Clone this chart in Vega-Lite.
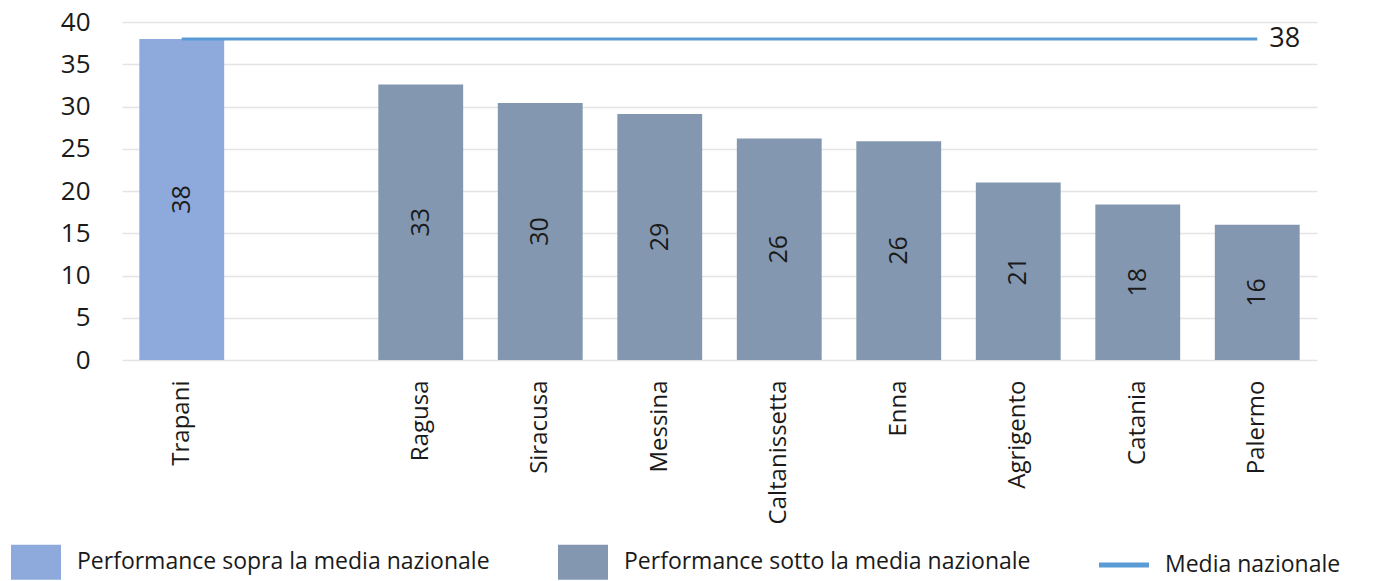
{
  "$schema": "https://vega.github.io/schema/vega-lite/v6.json",
  "autosize": {"type": "none"},
  "padding": {"left": 122, "top": 22, "right": 66, "bottom": 221},
  "width": 1195,
  "height": 338,
  "config": {
    "font": "Open Sans",
    "view": {"stroke": null}
  },
  "data": {
    "values": [
      {"provincia": "Trapani", "valore": 38.0, "gruppo": "Performance sopra la media nazionale"},
      {"provincia": "Ragusa", "valore": 32.6, "gruppo": "Performance sotto la media nazionale"},
      {"provincia": "Siracusa", "valore": 30.4, "gruppo": "Performance sotto la media nazionale"},
      {"provincia": "Messina", "valore": 29.1, "gruppo": "Performance sotto la media nazionale"},
      {"provincia": "Caltanissetta", "valore": 26.2, "gruppo": "Performance sotto la media nazionale"},
      {"provincia": "Enna", "valore": 25.9, "gruppo": "Performance sotto la media nazionale"},
      {"provincia": "Agrigento", "valore": 21.0, "gruppo": "Performance sotto la media nazionale"},
      {"provincia": "Catania", "valore": 18.4, "gruppo": "Performance sotto la media nazionale"},
      {"provincia": "Palermo", "valore": 16.0, "gruppo": "Performance sotto la media nazionale"}
    ]
  },
  "encoding": {
    "x": {
      "field": "provincia",
      "type": "nominal",
      "sort": null,
      "scale": {
        "domain": ["Trapani", " ", "Ragusa", "Siracusa", "Messina", "Caltanissetta", "Enna", "Agrigento", "Catania", "Palermo"],
        "paddingInner": 0.29,
        "paddingOuter": 0.145
      },
      "axis": {
        "title": null,
        "labelAngle": -90,
        "labelAlign": "right",
        "labelBaseline": "middle",
        "labelPadding": 20,
        "labelFontSize": 24,
        "labelColor": "#1a1a1a",
        "ticks": false,
        "domain": false,
        "grid": false
      }
    }
  },
  "layer": [
    {
      "mark": {"type": "bar"},
      "encoding": {
        "y": {
          "field": "valore",
          "type": "quantitative",
          "scale": {"domain": [0, 40], "nice": false},
          "axis": {
            "title": null,
            "values": [0, 5, 10, 15, 20, 25, 30, 35, 40],
            "labelFontSize": 26,
            "labelColor": "#1a1a1a",
            "labelPadding": 32,
            "ticks": false,
            "domain": false,
            "gridColor": "#e4e4e4",
            "gridWidth": 1.5
          }
        },
        "color": {
          "field": "gruppo",
          "type": "nominal",
          "scale": {
            "domain": ["Performance sopra la media nazionale", "Performance sotto la media nazionale", "Media nazionale"],
            "range": ["#8eaadc", "#8497b0", "#5b9bd5"]
          },
          "legend": {
            "title": null,
            "orient": "none",
            "direction": "horizontal",
            "columns": 3,
            "legendX": -111,
            "legendY": 515,
            "padding": 0,
            "symbolSize": 2500,
            "symbolStrokeWidth": 0,
            "symbolOpacity": 1,
            "labelFontSize": 23,
            "labelColor": "#1a1a1a",
            "labelOffset": 16,
            "labelLimit": 600,
            "columnPadding": 68,
            "encode": {
              "symbols": {
                "update": {
                  "shape": {"signal": "datum.value === 'Media nazionale' ? 'M-1,-0.1L1,-0.1L1,0.1L-1,0.1Z' : 'M-1,-0.7L1,-0.7L1,0.7L-1,0.7Z'"}
                }
              }
            }
          }
        }
      }
    },
    {
      "transform": [{"calculate": "datum.valore / 2", "as": "meta"}],
      "mark": {"type": "text", "angle": 270, "fontSize": 25, "color": "#1a1a1a", "align": "center", "baseline": "middle"},
      "encoding": {
        "y": {"field": "meta", "type": "quantitative"},
        "text": {"field": "valore", "type": "quantitative", "format": ".0f"}
      }
    },
    {
      "data": {"values": [{"media": 38}]},
      "mark": {"type": "rule", "color": "#5b9bd5", "strokeWidth": 3},
      "encoding": {
        "x": {"datum": "Trapani"},
        "x2": {"datum": "Palermo"},
        "y": {"field": "media", "type": "quantitative"}
      }
    },
    {
      "data": {"values": [{"media": 38}]},
      "mark": {"type": "text", "align": "left", "baseline": "middle", "dx": 12, "fontSize": 27, "color": "#1a1a1a"},
      "encoding": {
        "x": {"datum": "Palermo"},
        "y": {"field": "media", "type": "quantitative"},
        "text": {"field": "media", "type": "quantitative"}
      }
    }
  ]
}
